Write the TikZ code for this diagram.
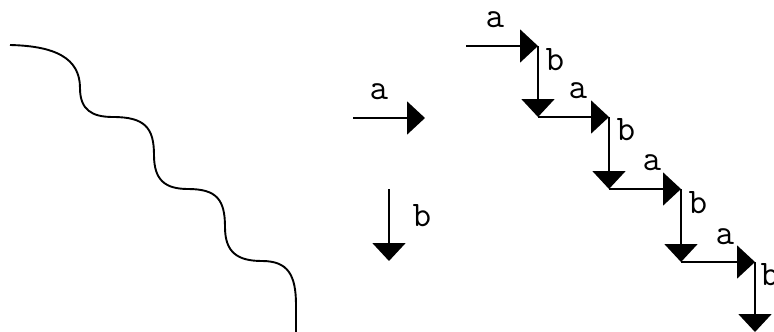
\documentclass[tikz,border=0pt]{standalone}
\usepackage{fontspec}
\usetikzlibrary{arrows.meta}
\begin{document}
\begin{tikzpicture}[x=1pt,y=-1pt,
  conn/.style={line width=1.9pt,-{Triangle[length=18pt,width=33pt]}},
  lbl/.style={inner sep=0pt,font=\ttfamily\fontsize{36}{36}\selectfont}]
\useasboundingbox (0,0) rectangle (774,332);
% wavy line
\draw[line width=1.9pt] (10,45) .. controls (55,46) and (80,58) .. (80,88)
  .. controls (80,110) and (92,117) .. (113,117)
  .. controls (145,117) and (154,128) .. (154,155)
  .. controls (154,180) and (165,189) .. (188,189)
  .. controls (217,189) and (225,200) .. (225,227)
  .. controls (225,252) and (237,261) .. (262,261)
  .. controls (288,261) and (296,275) .. (296,305) -- (296,332);
% single arrows
\coordinate (sa0) at (353,118);
\coordinate (sa1) at (425,118);
\coordinate (sb0) at (389,189);
\coordinate (sb1) at (389,261);
\draw[conn] (sa0) -- (sa1);
\draw[conn] (sb0) -- (sb1);
\node[lbl] (sla) at (379,92) {a};
\node[lbl] (slb) at (422,216) {b};
% staircase
\coordinate (p0) at (466,46);
\coordinate (p1) at (538,46);
\coordinate (p2) at (538,117);
\coordinate (p3) at (609,117);
\coordinate (p4) at (609,189);
\coordinate (p5) at (681,189);
\coordinate (p6) at (681,262);
\coordinate (p7) at (755,262);
\coordinate (p8) at (755,332);
\draw[conn] (p0) -- (p1);
\draw[conn] (p1) -- (p2);
\draw[conn] (p2) -- (p3);
\draw[conn] (p3) -- (p4);
\draw[conn] (p4) -- (p5);
\draw[conn] (p5) -- (p6);
\draw[conn] (p6) -- (p7);
\draw[conn] (p7) -- (p8);
\node[lbl] (a1) at (495,20) {a};
\node[lbl] (b1) at (555,60) {b};
\node[lbl] (a2) at (578,91) {a};
\node[lbl] (b2) at (626,130) {b};
\node[lbl] (a3) at (652,163) {a};
\node[lbl] (b3) at (698,203) {b};
\node[lbl] (a4) at (725,237) {a};
\node[lbl] (b4) at (770,275) {b};
\end{tikzpicture}
\end{document}
